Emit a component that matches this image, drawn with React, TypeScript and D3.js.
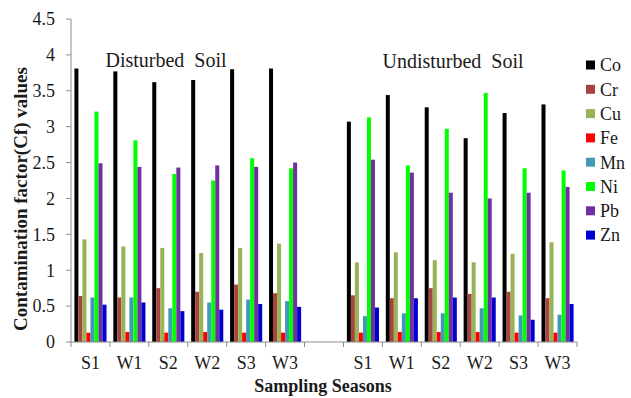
import React from 'react';
import { scaleBand, scaleLinear, range } from 'd3';

// sampling seasons, one set per soil type
const seasons = ['S1', 'W1', 'S2', 'W2', 'S3', 'W3'];
const metals = ['Co', 'Cr', 'Cu', 'Fe', 'Mn', 'Ni', 'Pb', 'Zn'];
const metalColors = ['#000000', '#A8443F', '#98B355', '#FF0000', '#4299B5', '#00FF00', '#7030A0', '#0000D0'];
const yTicks = [0, 0.5, 1, 1.5, 2, 2.5, 3, 3.5, 4, 4.5];

// first 6 values: disturbed soil, last 6: undisturbed soil
const co = [3.81, 3.77, 3.62, 3.65, 3.8, 3.81, 3.07, 3.44, 3.27, 2.84, 3.19, 3.31];
const cr = [0.64, 0.62, 0.75, 0.7, 0.8, 0.68, 0.65, 0.61, 0.75, 0.67, 0.7, 0.61];
const cu = [1.43, 1.33, 1.31, 1.24, 1.31, 1.37, 1.11, 1.25, 1.14, 1.11, 1.23, 1.39];
const fe = [0.13, 0.14, 0.13, 0.14, 0.13, 0.13, 0.13, 0.14, 0.14, 0.14, 0.13, 0.13];
const mn = [0.62, 0.62, 0.47, 0.55, 0.59, 0.57, 0.36, 0.4, 0.4, 0.47, 0.37, 0.38];
const ni = [3.21, 2.81, 2.34, 2.25, 2.56, 2.42, 3.13, 2.46, 2.97, 3.47, 2.42, 2.39];
const pb = [2.49, 2.44, 2.43, 2.46, 2.44, 2.5, 2.54, 2.36, 2.08, 2.0, 2.08, 2.16];
const zn = [0.52, 0.55, 0.43, 0.45, 0.53, 0.49, 0.48, 0.61, 0.62, 0.62, 0.31, 0.53];
const series = [co, cr, cu, fe, mn, ni, pb, zn];

const App = () => {
  const width = 631;
  const height = 398;
  const left = 71;
  const right = 577;
  const top = 19;
  const bottom = 342;

  // 6 disturbed, a blank slot, 6 undisturbed
  const keys = [...seasons.map((s) => 'D' + s), 'gap', ...seasons.map((s) => 'U' + s)];
  const x = scaleBand().domain(keys).range([left, right]).padding(0);
  const inner = scaleBand().domain(metals).range([0, x.bandwidth()]).paddingInner(0).paddingOuter(0.85);
  const y = scaleLinear().domain([0, 4.5]).range([bottom, top]);

  const dataKeys = keys.filter((k) => k !== 'gap');
  const font = '"Liberation Serif", "Times New Roman", serif';
  const axisColor = '#8c8c8c';
  const textColor = '#1a1a1a';

  return (
    <svg width={width} height={height} style={{ position: 'absolute', left: 0, top: 0 }} fontFamily={font}>
      <rect width={width} height={height} fill="#fff" />

      {/* bars */}
      {dataKeys.map((k, i) => (
        <g key={k} transform={`translate(${x(k)},0)`}>
          {metals.map((m, j) => (
            <rect
              key={m}
              x={inner(m)}
              y={y(series[j][i])}
              width={inner.bandwidth()}
              height={bottom - y(series[j][i])}
              fill={metalColors[j]}
            />
          ))}
        </g>
      ))}

      {/* y axis */}
      <line x1={left} x2={left} y1={top} y2={bottom} stroke={axisColor} />
      {yTicks.map((t) => (
        <g key={t}>
          <line x1={left - 5} x2={left} y1={y(t)} y2={y(t)} stroke={axisColor} />
          <text x={left - 16} y={y(t)} dy="0.35em" textAnchor="end" fontSize={18} fill={textColor}>
            {t}
          </text>
        </g>
      ))}

      {/* x axis */}
      <line x1={left} x2={right} y1={bottom} y2={bottom} stroke={axisColor} />
      {[...keys.map((k) => x(k) as number), right].map((v, i) => (
        <line key={i} x1={v} x2={v} y1={bottom} y2={bottom + 5} stroke={axisColor} />
      ))}
      {dataKeys.map((k) => (
        <text key={k} x={(x(k) as number) + x.bandwidth() / 2} y={369} textAnchor="middle" fontSize={18} fill={textColor}>
          {k.slice(1)}
        </text>
      ))}

      <text x={166} y={67} textAnchor="middle" fontSize={20} fill={textColor} style={{ whiteSpace: 'pre' }}>
        {'Disturbed  Soil'}
      </text>
      <text x={453} y={68} textAnchor="middle" fontSize={20} fill={textColor} style={{ whiteSpace: 'pre' }}>
        {'Undisturbed  Soil'}
      </text>

      <text x={323} y={392} textAnchor="middle" fontSize={18} fontWeight="bold" fill={textColor}>
        Sampling Seasons
      </text>
      <text
        transform="translate(27,199) rotate(-90)"
        textAnchor="middle"
        fontSize={19}
        fontWeight="bold"
        fill={textColor}
      >
        Contamination factor(Cf) values
      </text>

      {/* legend */}
      {range(metals.length).map((i) => (
        <g key={metals[i]} transform={`translate(586,${65 + i * 24.3})`}>
          <rect x={0} y={-4.5} width={9} height={9} fill={metalColors[i]} />
          <text x={14} y={0} dy="0.35em" fontSize={18} fill={textColor}>
            {metals[i]}
          </text>
        </g>
      ))}
    </svg>
  );
};

export default App;
